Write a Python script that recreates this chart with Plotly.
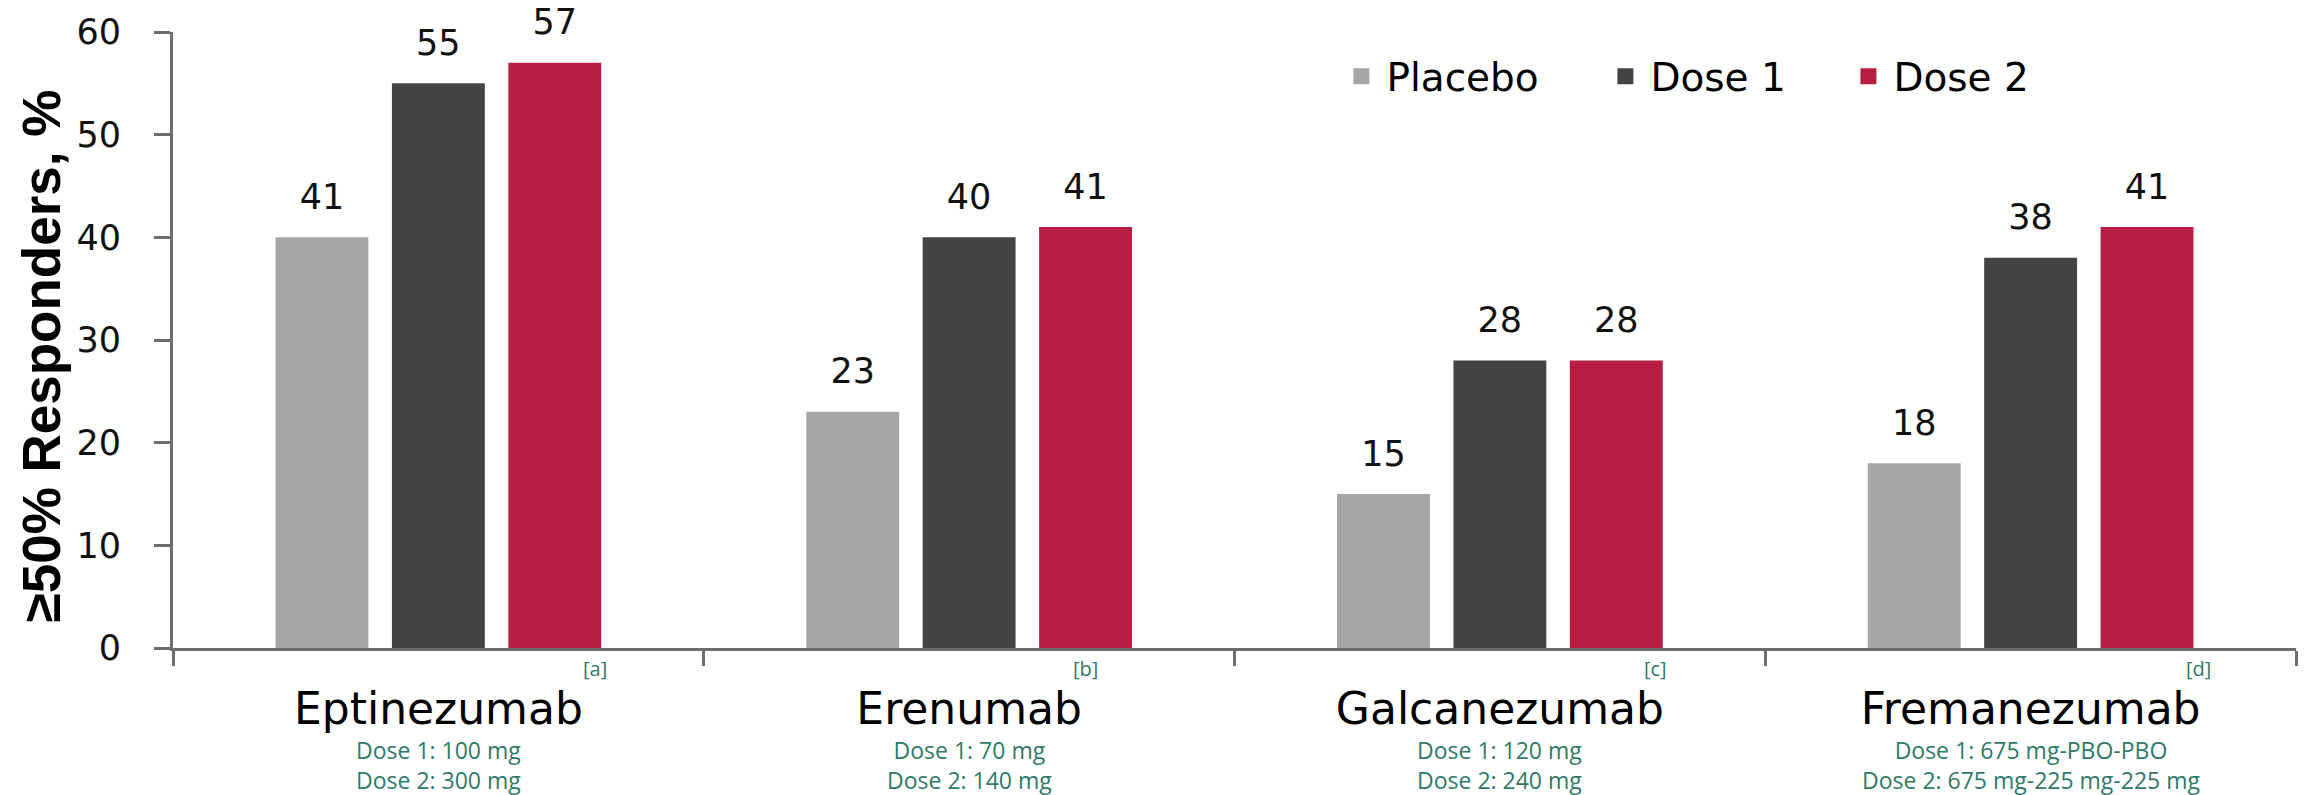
import plotly.graph_objects as go

# ---------------- data ----------------
categories = ["Eptinezumab", "Erenumab", "Galcanezumab", "Fremanezumab"]
series_names = ["Placebo", "Dose 1", "Dose 2"]
placebo = [40, 23, 15, 18]
dose1 = [55, 40, 28, 38]
dose2 = [57, 41, 28, 41]
placebo_labels = ["41", "23", "15", "18"]
dose1_labels = ["55", "40", "28", "38"]
dose2_labels = ["57", "41", "28", "41"]
dose_notes = [
    "Dose 1: 100 mg<br>Dose 2: 300 mg",
    "Dose 1: 70 mg<br>Dose 2: 140 mg",
    "Dose 1: 120 mg<br>Dose 2: 240 mg",
    "Dose 1: 675 mg-PBO-PBO<br>Dose 2: 675 mg-225 mg-225 mg",
]
refs = ["[a]", "[b]", "[c]", "[d]"]
y_ticks = [0, 10, 20, 30, 40, 50, 60]
y_title = "≥50% Responders, %"

# ---------------- style ----------------
colors = ["#a6a6a6", "#444444", "#b81e42"]
teal = "#2f7a68"
axis_color = "#6e6e6e"
ref_shift = [157, 116, 156, 168]
legend_widths = [209, 188, 160]

values = [placebo, dose1, dose2]
labels = [placebo_labels, dose1_labels, dose2_labels]

fig = go.Figure()

for name, vals, col in zip(series_names, values, colors):
    fig.add_trace(go.Bar(
        x=categories, y=vals, name=name, offsetgroup=name,
        marker=dict(color=col, line=dict(width=0)),
        showlegend=False, hoverinfo="skip",
    ))

for name, vals, labs in zip(series_names, values, labels):
    fig.add_trace(go.Scatter(
        x=categories, y=vals, text=labs, offsetgroup=name,
        mode="markers+text", textposition="top center",
        marker=dict(size=30, opacity=0),
        textfont=dict(family="DejaVu Sans", size=35, color="#111111"),
        showlegend=False, cliponaxis=False, hoverinfo="skip",
    ))

# legend entries
for name, col, lw in zip(series_names, colors, legend_widths):
    fig.add_trace(go.Scatter(
        x=[None], y=[None], name=name, mode="markers",
        marker=dict(symbol="square", size=16, color=col),
        legendwidth=lw, showlegend=True,
    ))

annotations = []
for cat, note in zip(categories, dose_notes):
    annotations.append(dict(
        x=cat, xref="x", y=0, yref="paper", yanchor="top", xanchor="center",
        yshift=-84, text=note, showarrow=False,
        font=dict(family="Open Sans", size=23, color=teal),
    ))
for cat, r, sh in zip(categories, refs, ref_shift):
    annotations.append(dict(
        x=cat, xref="x", y=0, yref="paper", yanchor="middle", xanchor="center",
        xshift=sh, yshift=-20, text=r, showarrow=False,
        font=dict(family="Open Sans", size=20, color=teal),
    ))
annotations.append(dict(
    x=-0.062, xref="paper", y=0.474, yref="paper", xanchor="center", yanchor="middle",
    text=y_title, textangle=-90, showarrow=False,
    font=dict(family="Liberation Sans", size=53, color="#000000", weight="bold"),
))

fig.update_layout(
    width=2312, height=795,
    margin=dict(l=173, r=16, t=25, b=147),
    paper_bgcolor="white", plot_bgcolor="white",
    barmode="group", bargap=0.342, bargroupgap=0.202,
    scattermode="group", scattergap=0.342,
    font=dict(family="DejaVu Sans", color="#111111"),
    showlegend=True,
    legend=dict(
        orientation="h", x=0.548, xanchor="left", y=0.928, yanchor="middle",
        font=dict(family="DejaVu Sans", size=39, color="#000000"),
        itemsizing="trace", itemwidth=40, bgcolor="rgba(0,0,0,0)", entrywidthmode="pixels",
    ),
    annotations=annotations,
)

fig.update_xaxes(
    type="category", range=[-0.5, 3.5],
    showline=True, linecolor=axis_color, linewidth=3,
    ticks="outside", tickson="boundaries", ticklen=15, tickwidth=3, tickcolor=axis_color,
    tickfont=dict(family="DejaVu Sans", size=44, color="#000000"),
    ticklabelstandoff=20, showgrid=False, zeroline=False,
)
fig.update_yaxes(
    range=[0, 60], tickvals=y_ticks,
    showline=True, linecolor=axis_color, linewidth=3,
    ticks="outside", ticklen=16, tickwidth=3, tickcolor=axis_color,
    tickfont=dict(family="DejaVu Sans", size=35, color="#111111"),
    ticklabelstandoff=26, showgrid=False, zeroline=False,
)

fig.write_html("out.html")
